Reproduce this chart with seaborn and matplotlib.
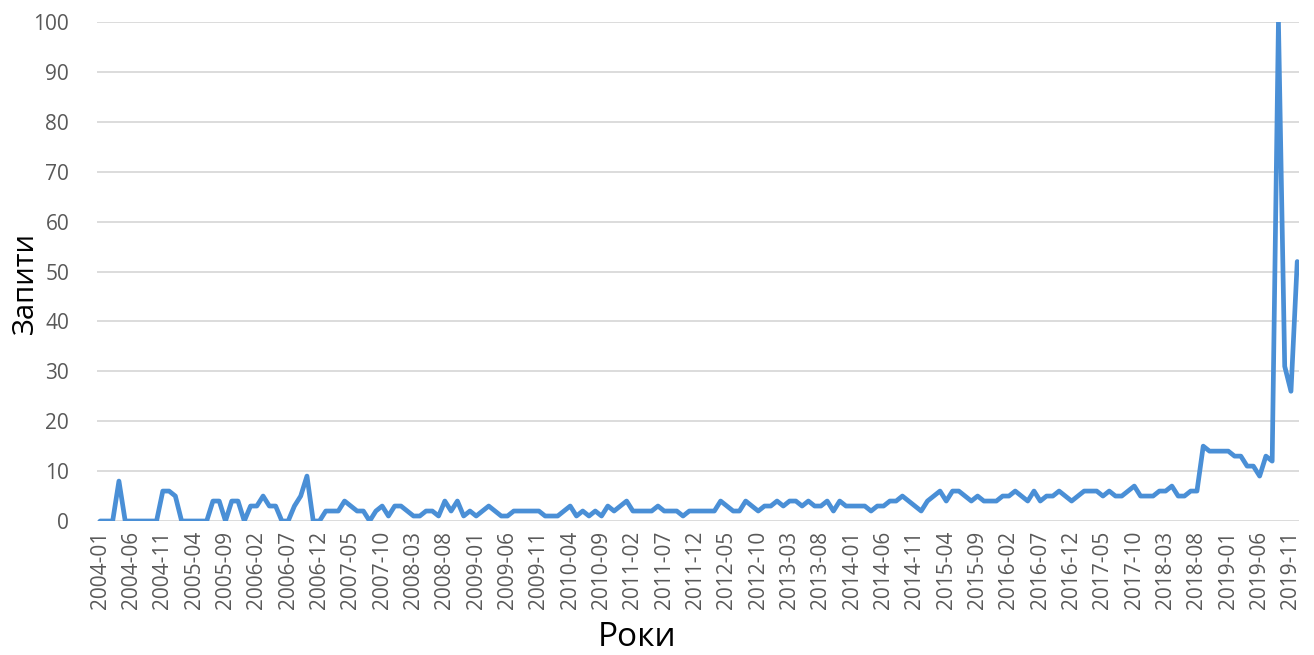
import matplotlib
matplotlib.use("Agg")
import matplotlib.pyplot as plt
import seaborn as sns
import pandas as pd

# monthly labels 2004-01 .. 2019-12
months = [f"{y}-{m:02d}" for y in range(2004, 2020) for m in range(1, 13)]

# search interest values, read per year
v2004 = [0, 0, 0, 8, 0, 0, 0, 0, 0, 0, 6, 6]
v2005 = [5, 0, 0, 0, 0, 0, 4, 4, 0, 4, 4, 0]
v2006 = [3, 3, 5, 3, 3, 0, 0, 3, 5, 9, 0, 0]
v2007 = [2, 2, 2, 4, 3, 2, 2, 0, 2, 3, 1, 3]
v2008 = [3, 2, 1, 1, 2, 2, 1, 4, 2, 4, 1, 2]
v2009 = [1, 2, 3, 2, 1, 1, 2, 2, 2, 2, 2, 1]
v2010 = [1, 1, 2, 3, 1, 2, 1, 2, 1, 3, 2, 3]
v2011 = [4, 2, 2, 2, 2, 3, 2, 2, 2, 1, 2, 2]
v2012 = [2, 2, 2, 4, 3, 2, 2, 4, 3, 2, 3, 3]
v2013 = [4, 3, 4, 4, 3, 4, 3, 3, 4, 2, 4, 3]
v2014 = [3, 3, 3, 2, 3, 3, 4, 4, 5, 4, 3, 2]
v2015 = [4, 5, 6, 4, 6, 6, 5, 4, 5, 4, 4, 4]
v2016 = [5, 5, 6, 5, 4, 6, 4, 5, 5, 6, 5, 4]
v2017 = [5, 6, 6, 6, 5, 6, 5, 5, 6, 7, 5, 5]
v2018 = [5, 6, 6, 7, 5, 5, 6, 6, 15, 14, 14, 14]
v2019 = [14, 13, 13, 11, 11, 9, 13, 12, 100, 31, 26, 52]

queries = (v2004 + v2005 + v2006 + v2007 + v2008 + v2009 + v2010 + v2011 +
           v2012 + v2013 + v2014 + v2015 + v2016 + v2017 + v2018 + v2019)

tick_step = 5
y_ticks = [0, 10, 20, 30, 40, 50, 60, 70, 80, 90, 100]

df = pd.DataFrame({"pos": range(len(queries)), "value": queries})

sns.set_style("white")
plt.rcParams["font.family"] = ["Open Sans", "DejaVu Sans"]

W, H = 1314, 655
fig = plt.figure(figsize=(W / 100, H / 100), dpi=100)
left_px, right_px, top_px, bottom_px = 97, 1298.5, 22, 521
ax = fig.add_axes([left_px / W, 1 - bottom_px / H,
                   (right_px - left_px) / W, (bottom_px - top_px) / H])

sns.lineplot(data=df, x="pos", y="value", ax=ax, color="#4A8FD6",
             linewidth=3.4, solid_joinstyle="round", solid_capstyle="round",
             zorder=3)

ax.set_xlim(-0.5, len(queries) - 0.8)
ax.set_ylim(0, 100)
ax.set_yticks(y_ticks)
ax.set_yticklabels([str(t) for t in y_ticks])
ticks = list(range(0, len(months), tick_step))
ax.set_xticks(ticks)
ax.set_xticklabels([months[i] for i in ticks], rotation=90)

ax.yaxis.grid(True, color="#d9d9d9", linewidth=1.3)
ax.xaxis.grid(False)
for s in ax.spines.values():
    s.set_visible(False)
ax.tick_params(axis="both", length=0, labelcolor="#595959")
ax.tick_params(axis="y", pad=20, labelsize=15)
ax.tick_params(axis="x", pad=7, labelsize=15)
ax.set_xlabel("")
ax.set_ylabel("")

fig.text(25 / W, 1 - 283 / H, "Запити", rotation=90, ha="center", va="center",
         fontsize=21, color="#000000")
fig.text(637 / W, 1 - 637 / H, "Роки", ha="center", va="center",
         fontsize=24, color="#000000")

fig.savefig("out.png", dpi=100)
